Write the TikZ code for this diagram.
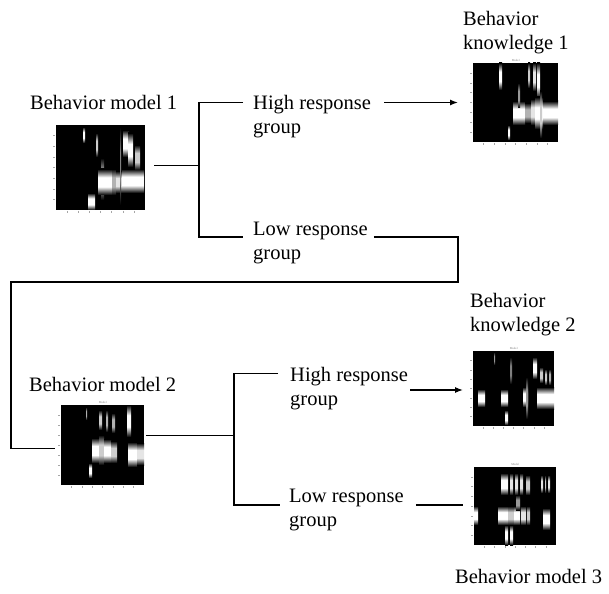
\documentclass[tikz,border=0pt]{standalone}
\usepackage{fontspec}
\setmainfont{Liberation Serif}
\usepackage{tikz}
\usetikzlibrary{arrows.meta}

\tikzset{
  lbl/.style={font=\fontsize{20.5}{24}\selectfont, align=left, inner sep=0pt, anchor=base west},
  link/.style={line width=1.3pt},
  arr/.style={link, -{Latex[length=8pt,width=6pt]}},
  heatbox/.style={fill=black, draw=none, inner sep=0pt, anchor=north west},
  tick/.style={gray!70, line width=0.3pt},
  ttl/.style={font=\fontsize{3}{3}\selectfont, text=gray, inner sep=0pt}
}

% bright bar with a flat top, black at both ends
\colorlet{barcol}{white}
\pgfdeclareverticalshading[barcol]{bar}{100bp}{color(0bp)=(black); color(25bp)=(black);
  color(41bp)=(barcol); color(59bp)=(barcol); color(75bp)=(black); color(100bp)=(black)}

% name, top left corner, width, height, stripes xa/xb/ya/yb/level
\newcommand\heatmap[5]{%
  \node[heatbox, minimum width=#3pt, minimum height=#4pt] (#1) at (#2) {};
  \begin{scope}[shift={(#1.north west)}]
    \foreach \xa/\xb/\ya/\yb/\lv in {#5}{
      \colorlet{barcol}{white!\lv!black}
      \shade[shading=bar] (\xa,\ya) rectangle (\xb,\yb);
    }
    \foreach \k in {1,...,7}
      \draw[tick] (-1,\k*#4/8) -- (-3,\k*#4/8)
                  (\k*#3/8,#4+1) -- (\k*#3/8,#4+3);
  \end{scope}
}

\begin{document}
\begin{tikzpicture}[x=1pt, y=-1pt]
  \useasboundingbox (0,0) rectangle (609,593);

  % plots
  \heatmap{m1}{56,125}{89}{85}{27/29/2/18/100, 40/42/8/32/80, 45/48/33/75/70,
    42/56/44/70/100, 56/60/44/70/70, 60/66/46/68/90, 66/88/44/68/100,
    32/39/68/85/100, 67/73/5/32/100, 72/77/8/42/100, 79/84/20/45/80, 64/65/2/80/50}
  \heatmap{kg1}{473,63}{85}{79}{26/29/0/27/100, 55/57/0/25/80, 60/63/0/28/90,
    64/67/0/35/100, 40/52/38/62/100, 52/58/40/60/70, 58/62/36/62/90,
    62/70/34/66/100, 70/85/38/62/100, 35/37/62/77/100, 67/69/28/75/80, 45/47/20/45/60}
  \heatmap{m2}{61,405}{83}{80}{25/26/2/15/70, 38/41/5/25/80, 45/47/5/27/70,
    51/54/8/28/70, 66/70/0/32/100, 31/38/33/58/100, 38/43/30/60/80,
    43/50/34/58/100, 50/56/36/58/80, 67/76/37/62/100, 76/83/38/60/90, 28/31/58/73/100}
  \heatmap{kg2}{473,351}{81}{75}{21/22/1/14/60, 37/39/6/33/50, 60/64/6/28/100,
    67/70/16/32/80, 72/74/18/34/80, 76/78/18/34/70, 5/12/38/56/100,
    28/35/38/56/100, 50/55/36/56/100, 64/81/36/58/100, 32/35/59/74/100, 53/55/26/68/60}
  \heatmap{m3}{474,467}{82}{78}{27/34/6/28/100, 36/39/6/28/90, 41/44/6/28/90,
    46/49/6/28/90, 52/56/8/28/80, 67/69/8/26/90, 71/72/8/26/80, 74/76/8/26/90,
    24/34/39/58/100, 34/40/39/58/80, 40/46/39/58/100, 47/52/39/58/90,
    53/56/39/58/80, 69/76/41/63/100, 0/4/39/58/100, 31/34/58/78/100,
    36/39/58/78/100, 42/46/28/43/60}
  \foreach \p in {kg1,m2,kg2,m3}
    \node[ttl] at ([yshift=3pt]\p.north) {Model};

  % labels (base = last line)
  \node[lbl] (bm1) at (30,110) {Behavior model 1};
  \node[lbl] (hr1) at (253,134) {High response\\group};
  \node[lbl] (lr1) at (253,259) {Low response\\group};
  \node[lbl] (kg1t) at (463,50) {Behavior\\knowledge 1};
  \node[lbl] (bm2) at (29,391) {Behavior model 2};
  \node[lbl] (kg2t) at (470,331) {Behavior\\knowledge 2};
  \node[lbl] (hr2) at (290,405) {High response\\group};
  \node[lbl] (lr2) at (289,526) {Low response\\group};
  \node[lbl] (bm3) at (455,583) {Behavior model 3};

  \coordinate (t1) at (199,0);
  \coordinate (t2) at (234,0);
  \coordinate (r1) at (458,282);
  \coordinate (l1) at (11,282);
  \coordinate (m1e) at ([xshift=9pt,yshift=2.5pt]m1.east);
  \coordinate (m2e) at ([xshift=2pt,yshift=10pt]m2.east);

  % first split
  \draw[link] (m1e) -- (t1 |- m1e);
  \draw[link] ([xshift=-10pt,yshift=31.5pt]hr1.base west) -| (t1 |- m1e)
              |- ([xshift=-10pt,yshift=22pt]lr1.base west);
  \coordinate (h1a) at ([xshift=13pt,yshift=31.5pt]hr1.base east);
  \draw[arr] (h1a) -- ([xshift=-15pt]h1a -| kg1.west);
  \draw[link] ([xshift=6pt,yshift=22pt]lr1.base east) -| (r1) -- (l1)
              |- ([xshift=-6pt,yshift=-3pt]m2.west);

  % second split
  \draw[link] (m2e) -- (t2 |- m2e);
  \draw[link] ([xshift=-12pt,yshift=31.5pt]hr2.base west) -| (t2 |- m2e)
              |- ([xshift=-9pt,yshift=21pt]lr2.base west);
  \coordinate (h2a) at ([xshift=2pt,yshift=15pt]hr2.base east);
  \draw[arr] (h2a) -- ([xshift=-10pt]h2a -| kg2.west);
  \coordinate (l2a) at ([xshift=12pt,yshift=21pt]lr2.base east);
  \draw[link] (l2a) -- ([xshift=-11pt]l2a -| m3.west);
\end{tikzpicture}
\end{document}
